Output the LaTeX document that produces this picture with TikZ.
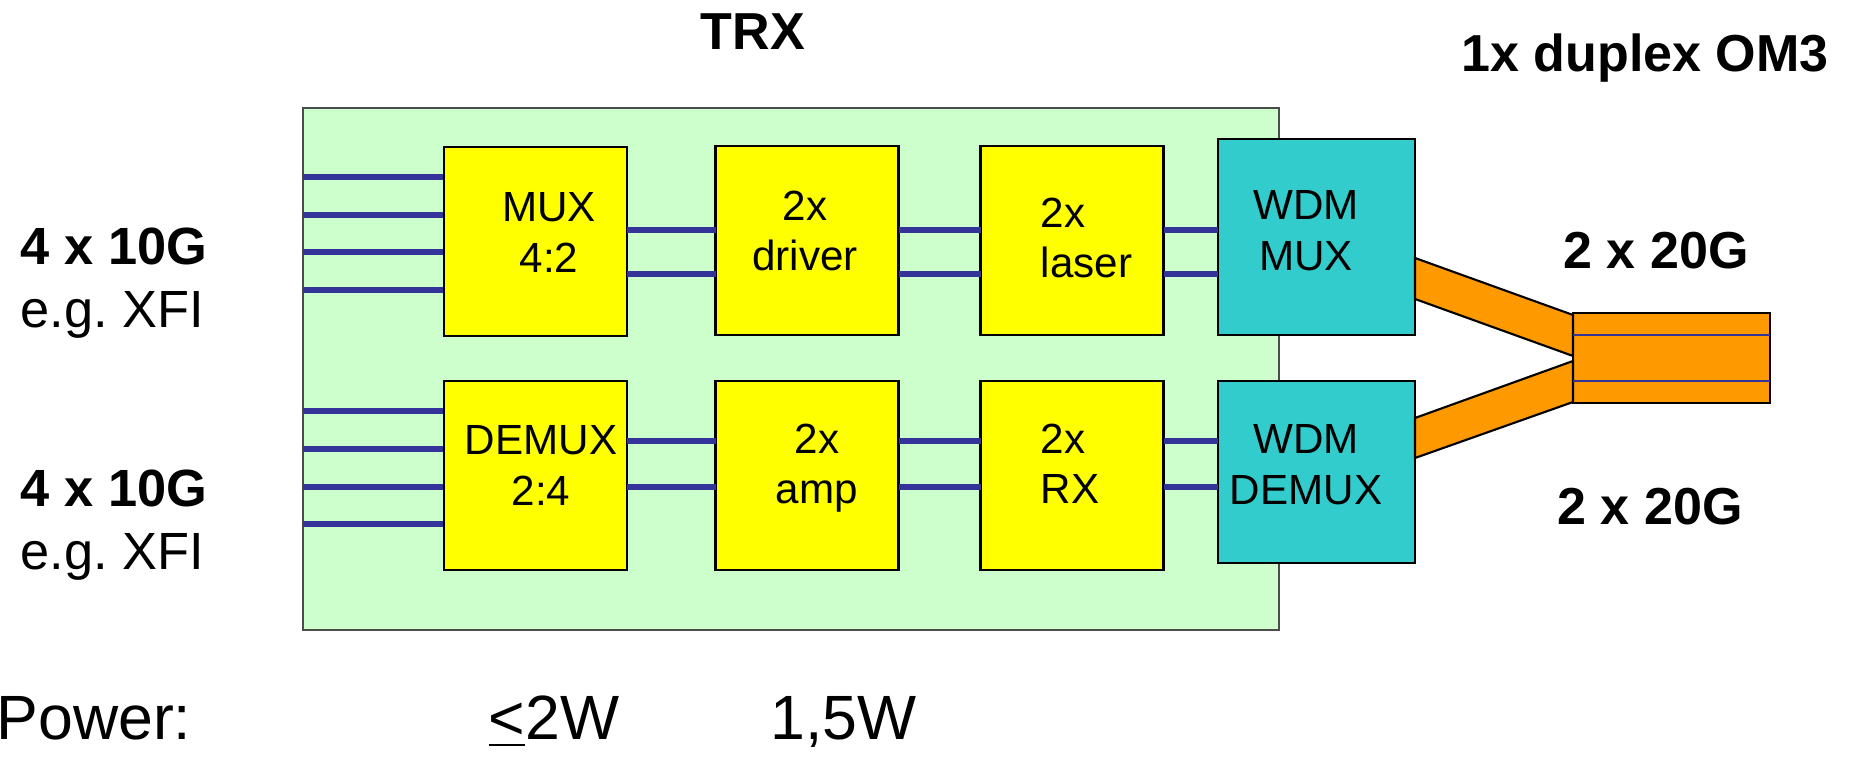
\documentclass[tikz,border=0pt]{standalone}
\usepackage{fontspec}
\setmainfont{Liberation Sans}
\definecolor{trxgreen}{HTML}{CCFFCC}
\definecolor{chipyellow}{HTML}{FFFF00}
\definecolor{wdmteal}{HTML}{33CCCC}
\definecolor{fiberorange}{HTML}{FF9900}
\definecolor{sigblue}{HTML}{333399}
\usetikzlibrary{positioning}

\begin{document}
\begin{tikzpicture}[
  trxbox/.style={draw=black!70, fill=trxgreen, line width=0.6pt,
                 inner sep=0pt, outer sep=0pt},
  chip/.style={draw, fill=chipyellow, line width=0.8pt, minimum width=1.83cm,
               minimum height=1.89cm, inner sep=0pt, outer sep=0pt},
  wdm/.style={draw, fill=wdmteal, line width=0.8pt, minimum width=1.97cm,
              inner sep=0pt, outer sep=0pt},
  plug/.style={draw, fill=fiberorange, line width=0.6pt, minimum width=1.97cm,
               minimum height=0.90cm, inner sep=0pt, outer sep=0pt},
  chiptxt/.style={anchor=north, inner sep=0pt, align=center,
                  font=\fontsize{12}{14.4}\selectfont},
  sig/.style={draw=sigblue, line width=1.45pt},
  fiber/.style={draw, fill=fiberorange, line width=0.6pt},
  head/.style={anchor=base, inner sep=0pt, font=\fontsize{14.8}{17.8}\selectfont\bfseries},
  side/.style={anchor=north west, inner sep=0pt, align=left,
               font=\fontsize{14.9}{17.9}\selectfont\frenchspacing},
  pwr/.style={anchor=base west, inner sep=0pt, font=\fontsize{17.8}{21}\selectfont},
]
\useasboundingbox (0,0) rectangle (18.56,-7.57);

% transceiver board
\node[trxbox, minimum width=9.76cm, minimum height=5.22cm] (trx) at (7.91,-3.69) {};

% signal lines
\foreach \y in {1.77,2.15,2.52,2.90}
  \draw[sig] (trx.west |- 0,-\y) -- (5.355,-\y);
\foreach \y in {4.11,4.49,4.87,5.24}
  \draw[sig] (trx.west |- 0,-\y) -- (5.355,-\y);

% chips
\node[chip] (mux)   at (5.355,-2.415) {};
\node[chip] (drv)   at (8.07,-2.405) {};
\node[chip] (laser) at (10.72,-2.405) {};
\node[wdm, minimum height=1.96cm] (wmux) at (13.165,-2.37) {};
\node[chip] (demux) at (5.355,-4.755) {};
\node[chip] (amp)   at (8.07,-4.755) {};
\node[chip] (rx)    at (10.72,-4.755) {};
\node[wdm, minimum height=1.82cm] (wdemux) at (13.165,-4.72) {};

\foreach \y in {2.30,2.74} {
  \draw[sig] (mux.east |- 0,-\y) -- (drv.west |- 0,-\y);
  \draw[sig] (drv.east |- 0,-\y) -- (laser.west |- 0,-\y);
  \draw[sig] (laser.east |- 0,-\y) -- (wmux.west |- 0,-\y);
}
\foreach \y in {4.41,4.87} {
  \draw[sig] (demux.east |- 0,-\y) -- (amp.west |- 0,-\y);
  \draw[sig] (amp.east |- 0,-\y) -- (rx.west |- 0,-\y);
  \draw[sig] (rx.east |- 0,-\y) -- (wdemux.west |- 0,-\y);
}

% fibre pair and connector
\node[plug] (om3) at (16.715,-3.58) {};
\draw[fiber] (wmux.east |- 0,-2.58) -- (om3.west |- 0,-3.15)
  -- (om3.west |- 0,-3.56) -- (wmux.east |- 0,-2.99) -- cycle;
\draw[fiber] (wdemux.east |- 0,-4.18) -- (om3.west |- 0,-3.61)
  -- (om3.west |- 0,-4.02) -- (wdemux.east |- 0,-4.58) -- cycle;
\draw[line width=0.6pt] (om3.north west) -- (om3.south west);
\foreach \y in {3.35,3.81}
  \draw[draw=sigblue, line width=0.7pt] (om3.west |- 0,-\y) -- (om3.east |- 0,-\y);

% chip labels
\node[chiptxt] (muxt)    at (5.49,-1.92) {MUX\\4:2};
\node[chiptxt] (drvt)    at (8.05,-1.90) {2x\\driver};
\node[chiptxt, anchor=north west, align=left] (lasert) at (10.40,-1.97) {2x\\laser};
\node[chiptxt] (wmuxt)   at (13.06,-1.90) {WDM\\MUX};
\node[chiptxt] (demuxt)  at (5.41,-4.25) {DEMUX\\2:4};
\node[chiptxt] (ampt)    at (8.17,-4.23) {2x\\amp};
\node[chiptxt, anchor=north west, align=left] (rxt) at (10.40,-4.23) {2x\\RX};
\node[chiptxt] (wdemuxt) at (13.06,-4.24) {WDM\\DEMUX};

% headings and rates
\node[head] (trxt)  at (7.53,-0.50) {TRX};
\node[head] (om3t)  at (16.45,-0.72) {1x duplex OM3};
\node[head] (rate1) at (16.56,-2.69) {2 x 20G};
\node[head] (rate2) at (16.50,-5.25) {2 x 20G};
\node[side] (in1) at (0.20,-2.27) {\textbf{4 x 10G}\\e.g. XFI};
\node[side] (in2) at (0.20,-4.69) {\textbf{4 x 10G}\\e.g. XFI};

% power budget
\node[pwr] (pw)  at (-0.04,-7.40) {Power:};
\node[pwr] (pw1) at (4.88,-7.40) {\underline{<}2W};
\node[pwr] (pw2) at (7.70,-7.40) {1,5W};
\end{tikzpicture}
\end{document}
